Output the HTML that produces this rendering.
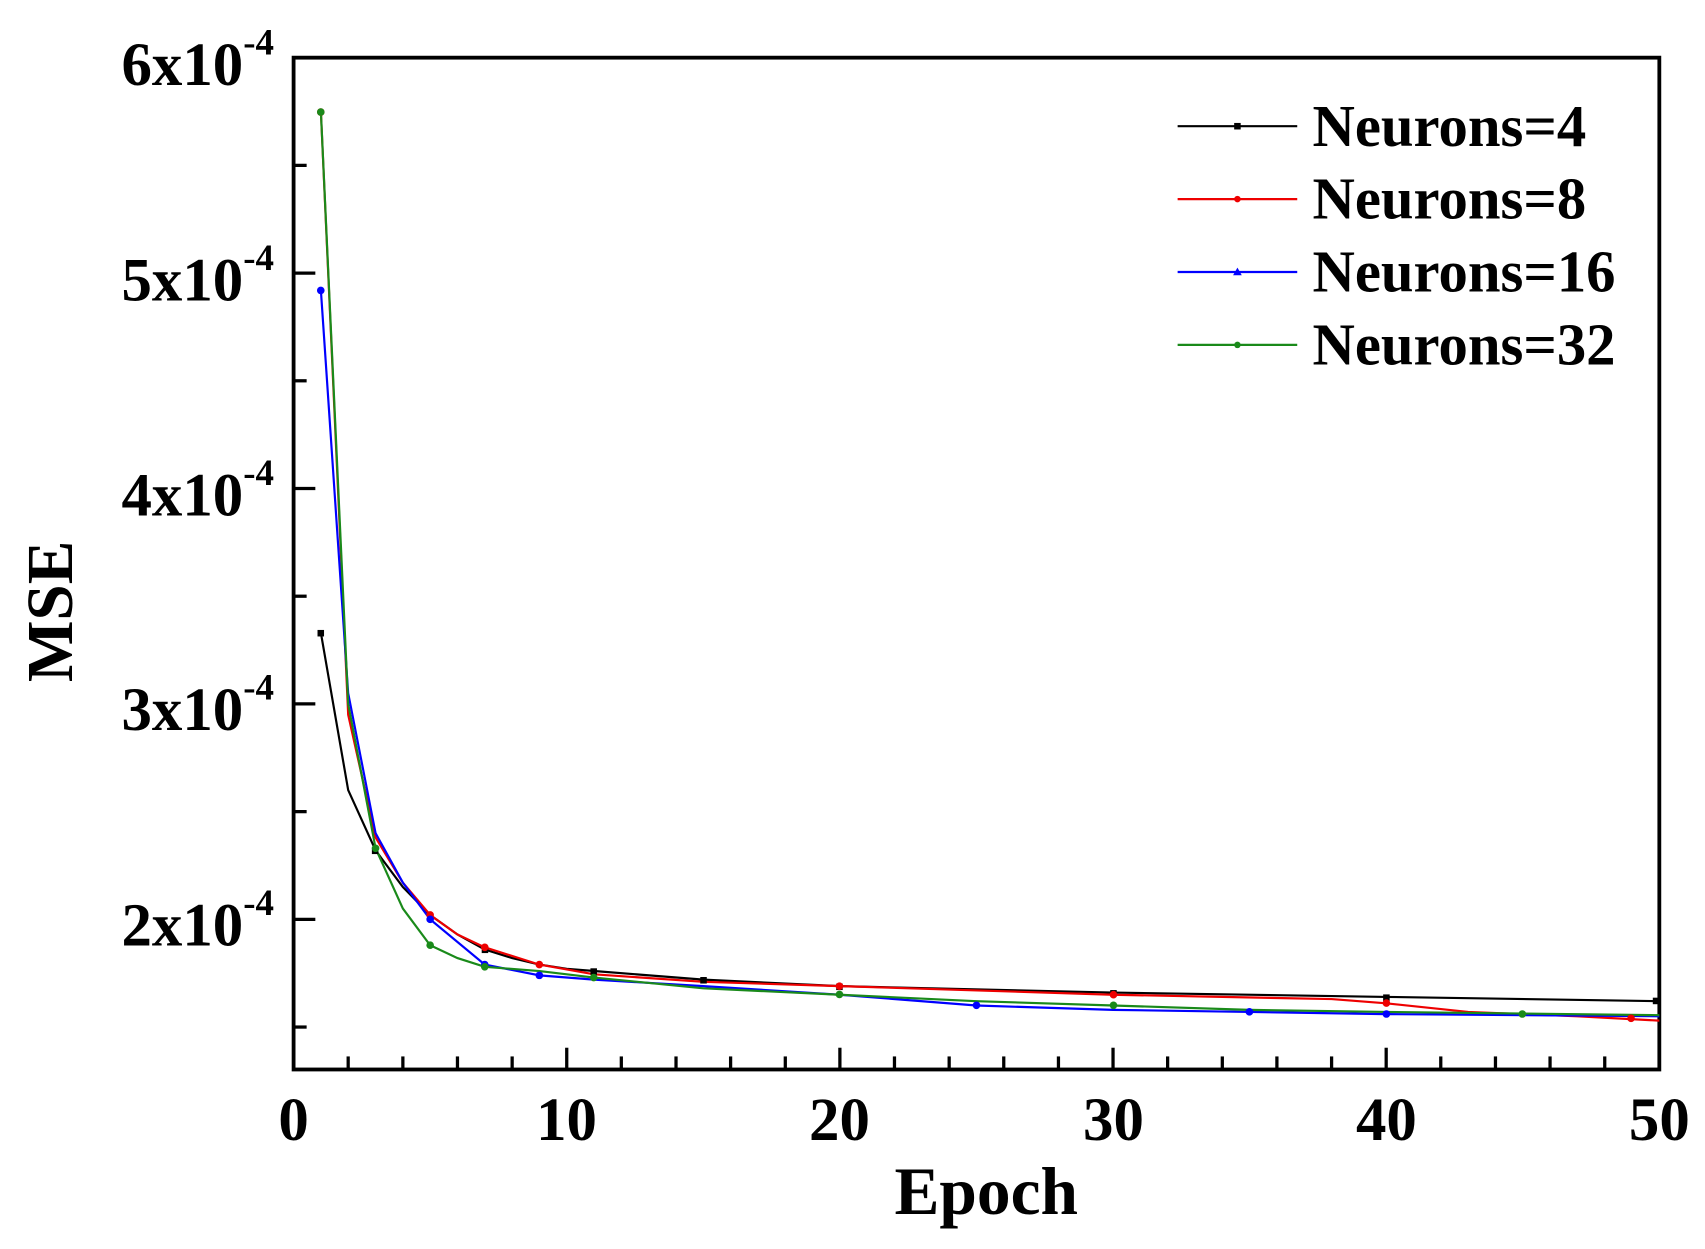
<!DOCTYPE html>
<html><head><meta charset="utf-8"><style>html,body{margin:0;padding:0;background:#fff}svg{display:block}</style></head>
<body>
<svg width="1705" height="1249" viewBox="0 0 1568 1148" preserveAspectRatio="none" xmlns="http://www.w3.org/2000/svg" font-family="Liberation Serif, serif" font-weight="bold">
<rect width="1568" height="1148" fill="#fff"/>
<g stroke="#000" stroke-width="3">
<line x1="320.2" y1="983" x2="320.2" y2="971"/><line x1="370.5" y1="983" x2="370.5" y2="971"/><line x1="420.7" y1="983" x2="420.7" y2="971"/><line x1="471" y1="983" x2="471" y2="971"/><line x1="521.2" y1="983" x2="521.2" y2="963"/>
<line x1="571.4" y1="983" x2="571.4" y2="971"/><line x1="621.7" y1="983" x2="621.7" y2="971"/><line x1="671.9" y1="983" x2="671.9" y2="971"/><line x1="722.2" y1="983" x2="722.2" y2="971"/><line x1="772.4" y1="983" x2="772.4" y2="963"/>
<line x1="822.6" y1="983" x2="822.6" y2="971"/><line x1="872.9" y1="983" x2="872.9" y2="971"/><line x1="923.1" y1="983" x2="923.1" y2="971"/><line x1="973.4" y1="983" x2="973.4" y2="971"/><line x1="1023.6" y1="983" x2="1023.6" y2="963"/>
<line x1="1073.8" y1="983" x2="1073.8" y2="971"/><line x1="1124.1" y1="983" x2="1124.1" y2="971"/><line x1="1174.3" y1="983" x2="1174.3" y2="971"/><line x1="1224.6" y1="983" x2="1224.6" y2="971"/><line x1="1274.8" y1="983" x2="1274.8" y2="963"/>
<line x1="1325" y1="983" x2="1325" y2="971"/><line x1="1375.3" y1="983" x2="1375.3" y2="971"/><line x1="1425.5" y1="983" x2="1425.5" y2="971"/><line x1="1475.8" y1="983" x2="1475.8" y2="971"/>
<line x1="270" y1="944" x2="282" y2="944"/><line x1="270" y1="845" x2="290" y2="845"/><line x1="270" y1="746" x2="282" y2="746"/><line x1="270" y1="647" x2="290" y2="647"/><line x1="270" y1="548" x2="282" y2="548"/><line x1="270" y1="449" x2="290" y2="449"/><line x1="270" y1="350" x2="282" y2="350"/><line x1="270" y1="251" x2="290" y2="251"/><line x1="270" y1="152" x2="282" y2="152"/>
</g>
<rect x="270" y="53" width="1256" height="930" fill="none" stroke="#000" stroke-width="3.5"/>
<g fill="none" stroke-width="2">
<polyline stroke="#000" points="295.1,581.7 320.2,726.2 345.4,781.6 370.5,815.3 395.6,841 420.7,858.9 445.8,872.7 471,880.6 496.1,886.6 521.2,890.5 546.3,892.5 646.8,900.4 772.4,906.4 1023.6,912.3 1274.8,916.3 1526,920.2"/>
<polyline stroke="#e00" points="295.1,102.5 320.2,656.9 345.4,769.8 370.5,811.3 395.6,841 420.7,858.9 445.8,870.7 496.1,886.6 546.3,895.5 646.8,902.4 772.4,906.4 1023.6,914.3 1224.6,918.3 1274.8,922.2 1350.2,930.1 1450.6,934.1 1526,938.1"/>
<polyline stroke="#00f" points="295.1,266.8 320.2,637.1 345.4,765.8 370.5,811.3 395.6,845 445.8,886.6 496.1,896.5 546.3,900.4 646.8,906.4 772.4,914.3 898,924.2 1023.6,928.2 1149.2,930.1 1274.8,932.1 1526,934.1"/>
<polyline stroke="#1a8a1a" points="295.1,102.5 320.2,647 345.4,779.7 370.5,835.1 395.6,868.8 420.7,880.6 445.8,888.6 496.1,892.5 546.3,898.5 646.8,908.4 772.4,914.3 898,920.2 1023.6,924.2 1149.2,928.2 1274.8,930.1 1526,933.1"/>
</g>
<g fill="#000"><rect x="292" y="579" width="6" height="6"/><rect x="342" y="779" width="6" height="6"/><rect x="443" y="870" width="6" height="6"/><rect x="543" y="890" width="6" height="6"/><rect x="644" y="898" width="6" height="6"/><rect x="769" y="904" width="6" height="6"/><rect x="1021" y="910" width="6" height="6"/><rect x="1272" y="914" width="6" height="6"/><rect x="1520" y="917" width="6" height="6"/></g>
<g fill="#e00"><circle cx="295" cy="103" r="3.5"/><circle cx="395.6" cy="841" r="3.5"/><circle cx="445.8" cy="870.7" r="3.5"/><circle cx="496" cy="886.6" r="3.5"/><circle cx="772" cy="906.4" r="3.5"/><circle cx="1024" cy="914.3" r="3.5"/><circle cx="1275" cy="922" r="3.5"/><circle cx="1500" cy="936" r="3.5"/></g>
<g fill="#00f"><circle cx="295" cy="267" r="3.5"/><circle cx="395.6" cy="845" r="3.5"/><circle cx="445.8" cy="886.6" r="3.5"/><circle cx="496" cy="896.5" r="3.5"/><circle cx="898" cy="924" r="3.5"/><circle cx="1149" cy="930" r="3.5"/><circle cx="1275" cy="932" r="3.5"/></g>
<g fill="#1a8a1a"><circle cx="295" cy="103" r="3.5"/><circle cx="345.4" cy="779.7" r="3.5"/><circle cx="395.6" cy="868.8" r="3.5"/><circle cx="445.8" cy="888.6" r="3.5"/><circle cx="546" cy="898.5" r="3.5"/><circle cx="772" cy="914" r="3.5"/><circle cx="1024" cy="924" r="3.5"/><circle cx="1400" cy="932" r="3.5"/></g>
<g font-size="56" text-anchor="middle">
<text x="270" y="1048">0</text><text x="521" y="1048">10</text><text x="772" y="1048">20</text><text x="1024" y="1048">30</text><text x="1275" y="1048">40</text><text x="1526" y="1048">50</text>
</g>
<g font-size="56" text-anchor="end">
<text x="252" y="78">6x10<tspan font-size="34" dy="-28">-4</tspan></text>
<text x="252" y="276">5x10<tspan font-size="34" dy="-28">-4</tspan></text>
<text x="252" y="474">4x10<tspan font-size="34" dy="-28">-4</tspan></text>
<text x="252" y="671">3x10<tspan font-size="34" dy="-28">-4</tspan></text>
<text x="252" y="869">2x10<tspan font-size="34" dy="-28">-4</tspan></text>
</g>
<text x="907" y="1116" font-size="62" text-anchor="middle">Epoch</text>
<text transform="translate(66,562) rotate(-90)" font-size="60" text-anchor="middle">MSE</text>
<g font-size="54">
<line x1="1083" y1="116" x2="1193" y2="116" stroke="#000" stroke-width="2"/><rect x="1135" y="113" width="6" height="6" fill="#000"/><text x="1207" y="134">Neurons=4</text>
<line x1="1083" y1="183" x2="1193" y2="183" stroke="#e00" stroke-width="2"/><circle cx="1138" cy="183" r="3" fill="#e00"/><text x="1207" y="201">Neurons=8</text>
<line x1="1083" y1="250" x2="1193" y2="250" stroke="#00f" stroke-width="2"/><path d="M1134 253 L1138 246 L1142 253Z" fill="#00f"/><text x="1207" y="268">Neurons=16</text>
<line x1="1083" y1="317" x2="1193" y2="317" stroke="#1a8a1a" stroke-width="2"/><circle cx="1138" cy="317" r="3" fill="#1a8a1a"/><text x="1207" y="335">Neurons=32</text>
</g>
</svg>
</body></html>
